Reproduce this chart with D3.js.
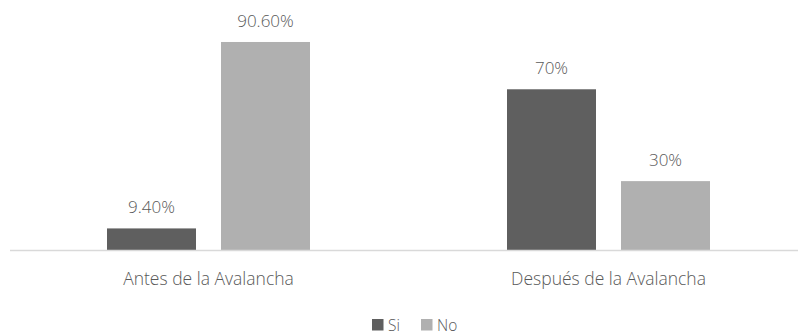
<!DOCTYPE html>
<html>
<head>
<meta charset="utf-8">
<script src="https://cdn.jsdelivr.net/npm/d3@7"></script>
<style>
  html, body { margin: 0; padding: 0; background: #fff; }
  svg { display: block; }
  text { font-family: "Open Sans", sans-serif; font-weight: 300; fill: #595959; }
</style>
</head>
<body>
<svg id="chart" width="798" height="335"></svg>
<script>
// Survey answers before and after the avalanche, in percent
const categories = ["Antes de la Avalancha", "Después de la Avalancha"];
const seriesNames = ["Si", "No"];
const siValues = [9.4, 70];
const noValues = [90.6, 30];
const valueLabels = [["9.40%", "70%"], ["90.60%", "30%"]];
const seriesColors = ["#5f5f5f", "#b0b0b0"];

const svg = d3.select("#chart");
const baseY = 250;

// one band per moment, two bars per band
const x0 = d3.scaleBand().domain(categories).range([8.5, 808.5]);
const x1 = d3.scaleBand().domain(seriesNames).range([98.5, 301.5]).paddingInner(25 / 114);
const y = d3.scaleLinear().domain([0, 100]).range([baseY, 20.4]);

const series = seriesNames.map((name, i) => ({
  name,
  color: seriesColors[i],
  values: i === 0 ? siValues : noValues,
  labels: valueLabels[i]
}));

series.forEach(s => {
  const rows = categories.map((c, j) => ({ c, v: s.values[j], label: s.labels[j] }));
  const g = svg.append("g");
  g.selectAll("rect").data(rows).join("rect")
    .attr("x", d => x0(d.c) + x1(s.name))
    .attr("y", d => y(d.v))
    .attr("width", x1.bandwidth())
    .attr("height", d => y(0) - y(d.v))
    .attr("fill", s.color);
  g.selectAll("text").data(rows).join("text")
    .attr("x", d => x0(d.c) + x1(s.name) + x1.bandwidth() / 2)
    .attr("y", d => y(d.v) - 15)
    .attr("text-anchor", "middle")
    .attr("font-size", 17)
    .text(d => d.label);
});

// category axis
const axis = d3.axisBottom(x0).tickSize(0).tickPadding(0);
const ax = svg.append("g").attr("transform", `translate(0,${baseY})`).call(axis);
ax.select(".domain").remove();
ax.selectAll("text")
  .attr("y", 35).attr("dy", 0)
  .attr("font-size", 17.5)
  .style("font-family", "\"Open Sans\", sans-serif")
  .style("font-weight", 300)
  .attr("fill", "#595959");
svg.append("line")
  .attr("x1", 10).attr("x2", 798)
  .attr("y1", baseY + 0.5).attr("y2", baseY + 0.5)
  .attr("stroke", "#d9d9d9").attr("stroke-width", 1.5);

// legend
const legend = svg.append("g").attr("transform", "translate(372,319)");
const items = legend.selectAll("g").data(series).join("g")
  .attr("transform", (d, i) => `translate(${i * 49},0)`);
items.append("rect").attr("width", 11.5).attr("height", 11.5).attr("fill", d => d.color);
items.append("text").attr("x", 16).attr("y", 11.5).attr("font-size", 15.5).text(d => d.name);
</script>
</body>
</html>
